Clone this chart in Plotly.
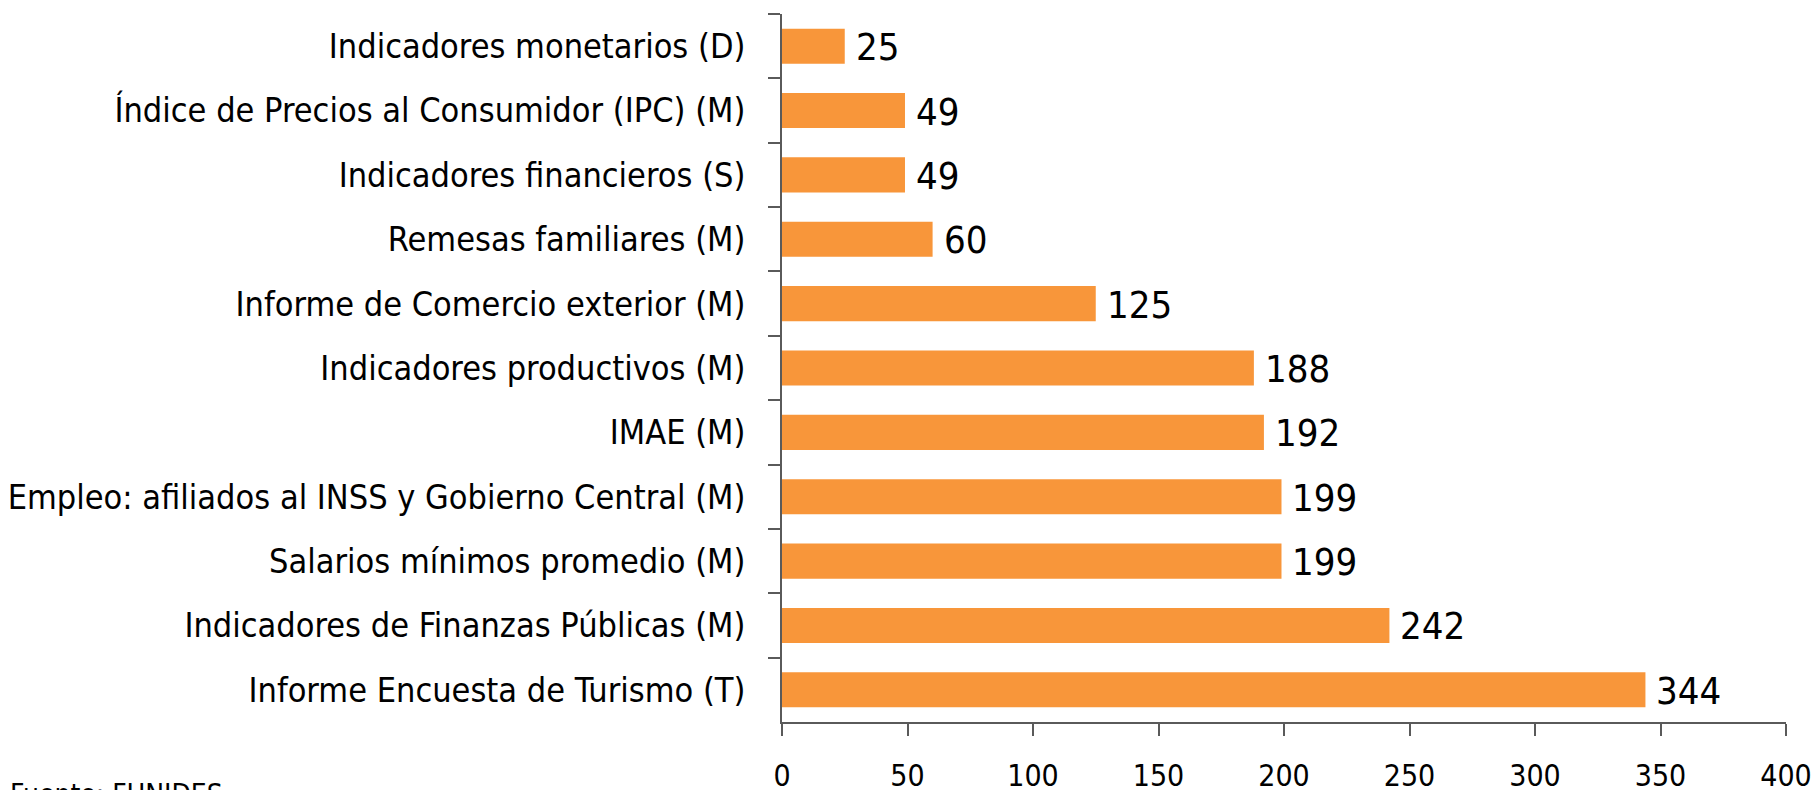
import plotly.graph_objects as go

categories = [
    "Indicadores monetarios (D)",
    "Índice de Precios al Consumidor (IPC) (M)",
    "Indicadores financieros (S)",
    "Remesas familiares (M)",
    "Informe de Comercio exterior (M)",
    "Indicadores productivos (M)",
    "IMAE (M)",
    "Empleo: afiliados al INSS y Gobierno Central (M)",
    "Salarios mínimos promedio (M)",
    "Indicadores de Finanzas Públicas (M)",
    "Informe Encuesta de Turismo (T)",
]
values = [25, 49, 49, 60, 125, 188, 192, 199, 199, 242, 344]
x_ticks = [0, 50, 100, 150, 200, 250, 300, 350, 400]
source_text = "Fuente: FUNIDES"

FONT = "DejaVu Sans Condensed, Liberation Sans Narrow, sans-serif"
ORANGE = "#F8963A"
AXIS = "#5a5a5a"

fig = go.Figure()
fig.add_trace(go.Bar(
    x=values, y=categories, orientation="h",
    marker=dict(color=ORANGE, line=dict(width=0)),
    hoverinfo="x+y",
))

for c, v in zip(categories, values):
    fig.add_annotation(
        x=v, y=c, xref="x", yref="y", text=str(v), showarrow=False,
        xanchor="left", yanchor="middle", xshift=9, yshift=-1,
        font=dict(family=FONT, size=38, color="#000000"),
    )

fig.add_annotation(
    x=0, y=0, xref="paper", yref="paper", text=source_text, showarrow=False,
    xanchor="left", yanchor="top", xshift=-774, yshift=-54,
    font=dict(family=FONT, size=28, color="#000000"),
)

fig.update_layout(
    width=1819, height=790,
    margin=dict(l=774, r=41, t=6, b=76, autoexpand=False),
    paper_bgcolor="white", plot_bgcolor="white",
    bargap=0.455,
    showlegend=False,
    font=dict(family=FONT, color="#000000"),
)
fig.update_xaxes(
    range=[0, 400], tickvals=x_ticks, ticktext=[str(t) for t in x_ticks],
    showgrid=False, zeroline=False, automargin=False,
    showline=True, linecolor=AXIS, linewidth=1.5,
    ticks="outside", ticklen=12, tickwidth=1.5, tickcolor=AXIS,
    tickfont=dict(family=FONT, size=30, color="#000000"),
    ticklabelstandoff=14,
)
fig.update_yaxes(
    autorange=False, range=[10.5, -0.5], automargin=False,
    categoryorder="array", categoryarray=categories,
    showgrid=False, zeroline=False,
    showline=True, linecolor=AXIS, linewidth=1.5,
    ticks="outside", ticklen=12, tickwidth=1.5, tickcolor=AXIS,
    tickson="boundaries",
    tickfont=dict(family=FONT, size=34, color="#000000"),
    ticklabelstandoff=28,
)

fig.write_html("out.html")
